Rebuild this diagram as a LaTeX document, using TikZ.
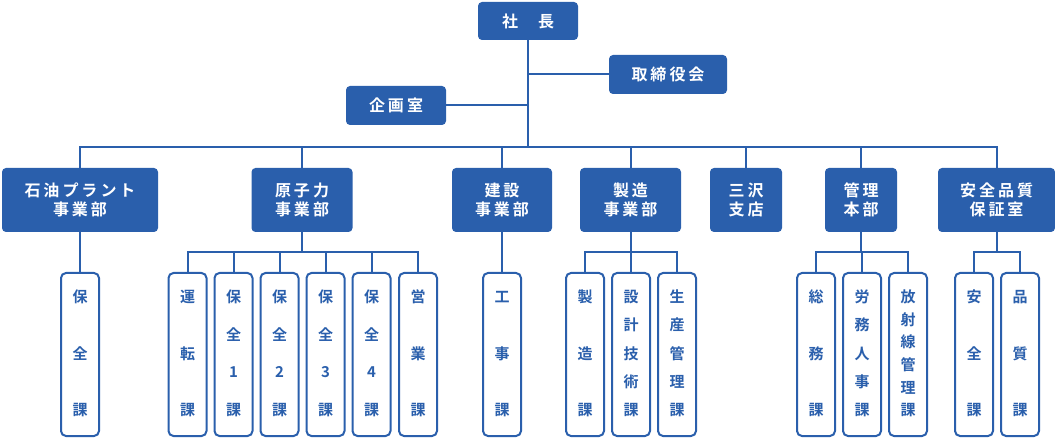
\documentclass[tikz,border=0pt]{standalone}
\usepackage{fontspec}
\setmainfont{Noto Sans CJK JP}[BoldFont={Noto Sans CJK JP Bold}]
\definecolor{bl}{HTML}{2A5FAC}
\newcommand\tk{\hspace{3pt}}
\begin{document}
\begin{tikzpicture}[x=1pt,y=-1pt,
  top/.style={draw=none,fill=bl,rounded corners=4pt,text=white,font=\fontsize{16}{19}\selectfont\bfseries,align=center,inner sep=0pt},
  sec/.style={draw=bl,line width=2pt,fill=white,rounded corners=5pt,minimum width=38pt,minimum height=163pt,inner sep=0pt},
  ch/.style={text=bl,font=\fontsize{15}{17}\selectfont\bfseries,inner sep=0pt},
  ln/.style={draw=bl,line width=2pt}]
\useasboundingbox (0,0) rectangle (1055,438);
% top boxes
\node[top,minimum width=100pt,minimum height=38pt] (ceo) at (528,21) {社\hspace{20pt}長};
\node[top,minimum width=118pt,minimum height=39pt] (board) at (668,74.5) {取\tk 締\tk 役\tk 会};
\node[top,minimum width=100pt,minimum height=39pt] (plan) at (396,105.5) {企\tk 画\tk 室};
\coordinate (bus) at (528,147);
\draw[ln] (ceo.south) -- (bus);
\draw[ln] (board.west) -- (528,74.5);
\draw[ln] (plan.east) -- (528,105.5);
% level 2
\foreach \n/\x/\w/\t in {
 a/80/156/{石\tk 油\tk プ\tk ラ\tk ン\tk ト\\事\tk 業\tk 部},
 b/302/101/{原\tk 子\tk 力\\事\tk 業\tk 部},
 c/502/100/{建\tk 設\\事\tk 業\tk 部},
 d/630.5/101/{製\tk 造\\事\tk 業\tk 部},
 e/746/72/{三\tk 沢\\支\tk 店},
 f/861/72/{管\tk 理\\本\tk 部},
 g/996.5/117/{安\tk 全\tk 品\tk 質\\保\tk 証\tk 室}}
 {\node[top,minimum width=\w pt,minimum height=64pt] (\n) at (\x,200) {\t};}
\draw[ln] (a.north) |- (bus) -| (g.north);
\foreach \n in {b,c,d,e,f} \draw[ln] (\n.north) -- (\n.north |- bus);
% level 3
\newcommand\sect[5]{% name, x, parent, n, chars
 \node[sec] (#1) at (#2,354.5) {};
 \draw[ln] (#1.north) -- (#2,252) -| (#3.south);
 \foreach \c [count=\i from 0] in {#5}
   \node[ch] (#1c\i) at (#2,{297+\i*113/(#4-1)}) {\c};}
\sect{s1}{80}{a}{3}{保,全,課}
\sect{s2}{187.5}{b}{3}{運,転,課}
\sect{s3}{233.5}{b}{4}{保,全,1,課}
\sect{s4}{279.5}{b}{4}{保,全,2,課}
\sect{s5}{325.5}{b}{4}{保,全,3,課}
\sect{s6}{371.5}{b}{4}{保,全,4,課}
\sect{s7}{418}{b}{3}{営,業,課}
\draw[ln] (s2.north) |- (302,252) -| (s7.north);
\sect{s8}{502}{c}{3}{工,事,課}
\sect{s9}{585}{d}{3}{製,造,課}
\sect{s10}{631}{d}{5}{設,計,技,術,課}
\sect{s11}{677}{d}{5}{生,産,管,理,課}
\draw[ln] (s9.north) |- (631,252) -| (s11.north);
\sect{s12}{816}{f}{3}{総,務,課}
\sect{s13}{862}{f}{5}{労,務,人,事,課}
\sect{s14}{908}{f}{6}{放,射,線,管,理,課}
\draw[ln] (s12.north) |- (862,252) -| (s14.north);
\sect{s15}{974}{g}{3}{安,全,課}
\sect{s16}{1020}{g}{3}{品,質,課}
\draw[ln] (s15.north) |- (997,252) -| (s16.north);
\end{tikzpicture}
\end{document}
